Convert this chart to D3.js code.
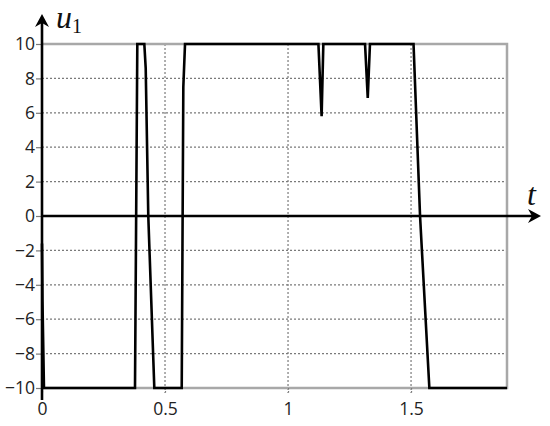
<!DOCTYPE html>
<html>
<head>
<meta charset="utf-8">
<script src="https://cdn.jsdelivr.net/npm/d3@7"></script>
<style>
html,body{margin:0;padding:0;background:#fff;}
svg{display:block;}
</style>
</head>
<body>
<svg id="chart" width="550" height="426"></svg>
<script>
const tValues = [0, 0.002, 0.008, 0.378, 0.3874, 0.4159, 0.4215, 0.432, 0.4565, 0.5679, 0.5744, 0.5813,
  1.1235, 1.1365, 1.1435, 1.313, 1.324, 1.333, 1.5101, 1.5366, 1.5744, 1.89];
const uValues = [-1.6, -5, -10, -10, 10, 10, 8.6, 0, -10, -10, 7.5, 10,
  10, 5.8, 10, 10, 6.86, 10, 10, 0, -10, -10];
const yTicks = [-10, -8, -6, -4, -2, 0, 2, 4, 6, 8, 10];
const xTicks = [0, 0.5, 1, 1.5];
const xTickLabels = ["0", "0.5", "1", "1.5"];
const xDomain = [0, 1.89];
const yDomain = [-10, 10];

const svg = d3.select("#chart");
const x = d3.scaleLinear().domain(xDomain).range([42, 507]);
const y = d3.scaleLinear().domain(yDomain).range([388, 44]);
const gridColor = "#7a7a7a";
const tickFont = "'Open Sans', 'Noto Sans', sans-serif";

// grid
svg.append("g").selectAll("line.h").data(yTicks.filter(d => d !== 0)).join("line")
  .attr("x1", x(0)).attr("x2", x(xDomain[1]))
  .attr("y1", d => y(d)).attr("y2", d => y(d))
  .attr("stroke", gridColor).attr("stroke-width", 1.2).attr("stroke-dasharray", "2,2");
svg.append("g").selectAll("line.v").data(xTicks.filter(d => d !== 0)).join("line")
  .attr("x1", d => x(d)).attr("x2", d => x(d))
  .attr("y1", y(10)).attr("y2", y(-10) + 5)
  .attr("stroke", gridColor).attr("stroke-width", 1.2).attr("stroke-dasharray", "2,2");

// frame (top, right, bottom)
const frame = d3.path();
frame.moveTo(x(0), y(10)); frame.lineTo(x(xDomain[1]), y(10));
frame.lineTo(x(xDomain[1]), y(-10)); frame.lineTo(x(0), y(-10));
svg.append("path").attr("d", frame.toString()).attr("fill", "none")
  .attr("stroke", "#a8a8a8").attr("stroke-width", 2.5);

// y tick marks and labels
const yAxis = d3.axisLeft(y).tickValues(yTicks).tickSize(6).tickPadding(1)
  .tickFormat(d => d < 0 ? "\u2212" + Math.abs(d) : String(d));
const gy = svg.append("g").attr("transform", `translate(${x(0)},0)`).call(yAxis);
gy.select(".domain").remove();
gy.selectAll(".tick line").attr("stroke", gridColor).attr("stroke-width", 1.2);
gy.selectAll(".tick text").attr("font-family", tickFont)
  .attr("font-size", 17.5).attr("fill", "#222");

// x tick labels
const xAxis = d3.axisBottom(x).tickValues(xTicks).tickSize(5).tickPadding(10)
  .tickFormat((d, i) => xTickLabels[i]);
const gx = svg.append("g").attr("transform", `translate(0,${y(-10)})`).call(xAxis);
gx.select(".domain").remove();
gx.selectAll(".tick line").attr("stroke", gridColor).attr("stroke-width", 1.2).attr("stroke-dasharray", "1.5,1.5");
gx.selectAll(".tick text").attr("font-family", tickFont)
  .attr("font-size", 17.5).attr("fill", "#222");

// curve
const line = d3.line().x((d, i) => x(tValues[i])).y(d => y(d));
svg.append("path").datum(uValues).attr("d", line).attr("fill", "none")
  .attr("stroke", "#000").attr("stroke-width", 2.6).attr("stroke-linejoin", "miter");

// axes with arrows
svg.append("line").attr("x1", x(0)).attr("x2", x(0)).attr("y1", 400).attr("y2", 20)
  .attr("stroke", "#000").attr("stroke-width", 2.6);
svg.append("path").attr("d", `M${x(0)},14 L${x(0) - 7},27 L${x(0)},23 L${x(0) + 7},27 Z`).attr("fill", "#000");
svg.append("line").attr("x1", x(0)).attr("x2", 533).attr("y1", y(0)).attr("y2", y(0))
  .attr("stroke", "#000").attr("stroke-width", 2.6);
svg.append("path").attr("d", `M541,${y(0)} L528,${y(0) - 7} L532,${y(0)} L528,${y(0) + 7} Z`).attr("fill", "#000");

// axis labels
const lab = svg.append("text").attr("x", 56).attr("y", 28)
  .attr("font-family", "'Liberation Serif', 'DejaVu Serif', serif").attr("fill", "#111");
lab.append("tspan").attr("font-style", "italic").attr("font-size", 32).text("u");
lab.append("tspan").attr("font-size", 20).attr("dy", 5).attr("dx", 0).text("1");
svg.append("text").attr("x", 527).attr("y", 205)
  .attr("font-family", "'Liberation Serif', 'DejaVu Serif', serif").attr("font-style", "italic")
  .attr("font-size", 32).attr("fill", "#111").text("t");
</script>
</body>
</html>
